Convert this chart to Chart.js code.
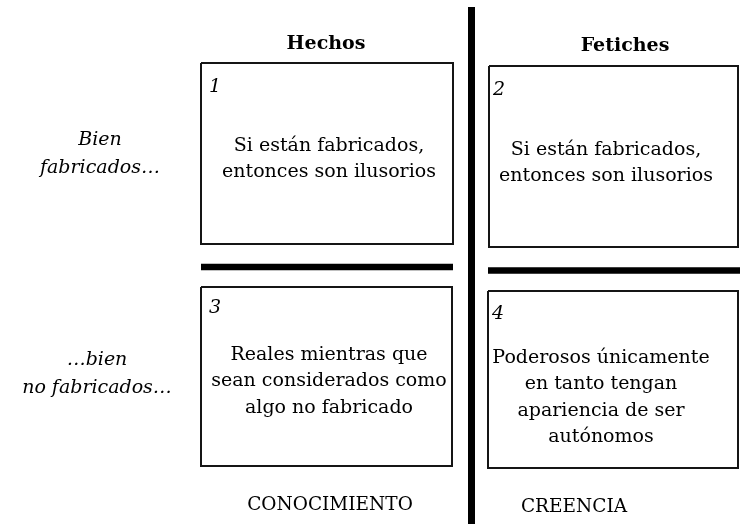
<!DOCTYPE html>
<html>
<head>
<meta charset="utf-8">
<script src="https://cdn.jsdelivr.net/npm/chart.js@4/dist/chart.umd.min.js"></script>
<style>
html,body{margin:0;padding:0;background:#fff;}
#wrap{width:740px;height:524px;}
</style>
</head>
<body>
<div id="wrap"><canvas id="c" width="740" height="524"></canvas></div>
<script>
// ---- data (text content of the 2x2 matrix) ----
const columnHeaders = ['Hechos', 'Fetiches'];
const rowLabels = [['Bien', 'fabricados\u2026'], ['\u2026bien', 'no fabricados\u2026']];
const cellNumbers = ['1', '2', '3', '4'];
const cellTexts = [
  ['Si están fabricados,', 'entonces son ilusorios'],
  ['Si están fabricados,', 'entonces son ilusorios'],
  ['Reales mientras que', 'sean considerados como', 'algo no fabricado'],
  ['Poderosos únicamente', 'en tanto tengan', 'apariencia de ser', 'autónomos']
];
const footerLabels = ['CONOCIMIENTO', 'CREENCIA'];

// ---- layout (diagram units on a 740 x 524 linear grid) ----
const layout = {
  boxes: [
    {x0: 201, x1: 453, y0: 63, y1: 244},
    {x0: 489, x1: 738, y0: 66, y1: 247},
    {x0: 201, x1: 452, y0: 287, y1: 466},
    {x0: 488, x1: 738, y0: 291, y1: 468}
  ],
  dividers: [
    {x0: 201, x1: 453, y0: 267, y1: 267},
    {x0: 488, x1: 740, y0: 270.5, y1: 270.5}
  ],
  vertical: {x: 471.5, y0: 7, y1: 530},
  headerPos: [{x: 326, y: 44}, {x: 625, y: 46}],
  rowLabelPos: [{x: 100, y: 140}, {x: 97, y: 360}],
  numberPos: [{x: 213, y: 87}, {x: 497, y: 90}, {x: 213, y: 308}, {x: 496, y: 314}],
  cellTextPos: [{x: 329, y: 146}, {x: 606, y: 150}, {x: 329, y: 355}, {x: 601, y: 358}],
  footerPos: [{x: 330, y: 505}, {x: 574, y: 507}],
  lineGap: 26.5,
  labelGap: 28
};

const SERIF = '"DejaVu Serif", "Liberation Serif", serif';

function rect(b) {
  return [{x: b.x0, y: b.y0}, {x: b.x1, y: b.y0}, {x: b.x1, y: b.y1}, {x: b.x0, y: b.y1}, {x: b.x0, y: b.y0}];
}

const datasets = [];
layout.boxes.forEach(b => datasets.push({
  data: rect(b), borderColor: '#151515', borderWidth: 2
}));
layout.dividers.forEach(d => datasets.push({
  data: [{x: d.x0, y: d.y0}, {x: d.x1, y: d.y1}], borderColor: '#000', borderWidth: 6.5, borderCapStyle: 'butt'
}));
datasets.push({
  data: [{x: layout.vertical.x, y: layout.vertical.y0}, {x: layout.vertical.x, y: layout.vertical.y1}],
  borderColor: '#000', borderWidth: 7, borderCapStyle: 'butt'
});
datasets.forEach(d => {
  d.showLine = true; d.pointRadius = 0; d.tension = 0; d.fill = false;
  d.borderJoinStyle = 'miter'; d.clip = false;
});

const textPlugin = {
  id: 'diagramText',
  afterDatasetsDraw(chart) {
    const ctx = chart.ctx, sx = chart.scales.x, sy = chart.scales.y;
    const P = p => [sx.getPixelForValue(p.x), sy.getPixelForValue(p.y)];
    ctx.save();
    ctx.fillStyle = '#000';
    ctx.textAlign = 'center';
    ctx.textBaseline = 'middle';
    // column headers
    ctx.font = 'bold 19px ' + SERIF;
    columnHeaders.forEach((t, i) => { const [x, y] = P(layout.headerPos[i]); ctx.fillText(t, x, y); });
    // row labels
    ctx.font = 'italic 19px ' + SERIF;
    rowLabels.forEach((lines, i) => {
      lines.forEach((t, j) => {
        const [x, y] = P({x: layout.rowLabelPos[i].x, y: layout.rowLabelPos[i].y + j * layout.labelGap});
        ctx.fillText(t, x, y);
      });
    });
    // cell numbers
    ctx.font = 'italic 19px ' + SERIF;
    ctx.textAlign = 'left';
    cellNumbers.forEach((t, i) => { const [x, y] = P(layout.numberPos[i]); ctx.fillText(t, x - 4, y); });
    // cell texts
    ctx.textAlign = 'center';
    ctx.font = '19px ' + SERIF;
    cellTexts.forEach((lines, i) => {
      lines.forEach((t, j) => {
        const [x, y] = P({x: layout.cellTextPos[i].x, y: layout.cellTextPos[i].y + j * layout.lineGap});
        ctx.fillText(t, x, y);
      });
    });
    // footers
    ctx.font = '18.5px ' + SERIF;
    footerLabels.forEach((t, i) => { const [x, y] = P(layout.footerPos[i]); ctx.fillText(t, x, y); });
    ctx.restore();
  }
};

new Chart(document.getElementById('c'), {
  type: 'scatter',
  data: {datasets},
  options: {
    responsive: false,
    animation: false,
    layout: {padding: 0},
    plugins: {legend: {display: false}, tooltip: {enabled: false}, title: {display: false}},
    scales: {
      x: {type: 'linear', min: 0, max: 740, display: false},
      y: {type: 'linear', min: 0, max: 524, reverse: true, display: false}
    }
  },
  plugins: [textPlugin]
});
</script>
</body>
</html>
